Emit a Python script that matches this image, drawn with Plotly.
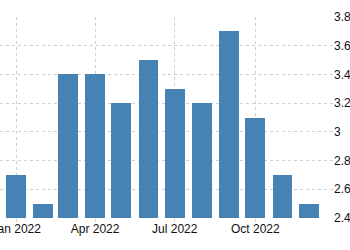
import plotly.graph_objects as go

months = ["2022-01-01", "2022-02-01", "2022-03-01", "2022-04-01", "2022-05-01", "2022-06-01",
          "2022-07-01", "2022-08-01", "2022-09-01", "2022-10-01", "2022-11-01", "2022-12-01"]
values = [2.7, 2.5, 3.4, 3.4, 3.2, 3.5, 3.3, 3.2, 3.7, 3.1, 2.7, 2.5]
y_ticks = [2.4, 2.6, 2.8, 3.0, 3.2, 3.4, 3.6, 3.8]
y_tick_labels = ["2.4", "2.6", "2.8", "3", "3.2", "3.4", "3.6", "3.8"]

bar_width_ms = 22.8 * 86400000

fig = go.Figure(go.Bar(
    x=months, y=values,
    width=[bar_width_ms] * len(months),
    marker=dict(color="#4682B4", line=dict(width=0)),
))

fig.update_layout(
    width=350, height=250,
    margin=dict(l=0, r=17, t=17, b=32, autoexpand=False),
    paper_bgcolor="white", plot_bgcolor="white",
    showlegend=False,
    font=dict(family="Liberation Sans, Arial, sans-serif", size=12, color="#111"),
    bargap=0,
)
fig.update_xaxes(
    type="date", automargin=False,
    range=["2021-12-13 10:00", "2022-12-28 16:00"],
    tick0="2022-01-01", dtick="M3", tickformat="%b %Y",
    ticklabeloverflow="allow", ticklabelstandoff=-3,
    showgrid=True, gridcolor="#cfcfcf", griddash="dot", gridwidth=1,
    ticks="outside", ticklen=3, tickcolor="#cfcfcf",
    showline=False, zeroline=False,
)
fig.update_yaxes(
    side="right", automargin=False,
    range=[2.4, 3.8],
    tickvals=y_ticks, ticktext=y_tick_labels,
    ticklabeloverflow="allow",
    showgrid=True, gridcolor="#cfcfcf", griddash="dot", gridwidth=1,
    showline=False, zeroline=False, ticks="",
)

fig.write_html("out.html")
